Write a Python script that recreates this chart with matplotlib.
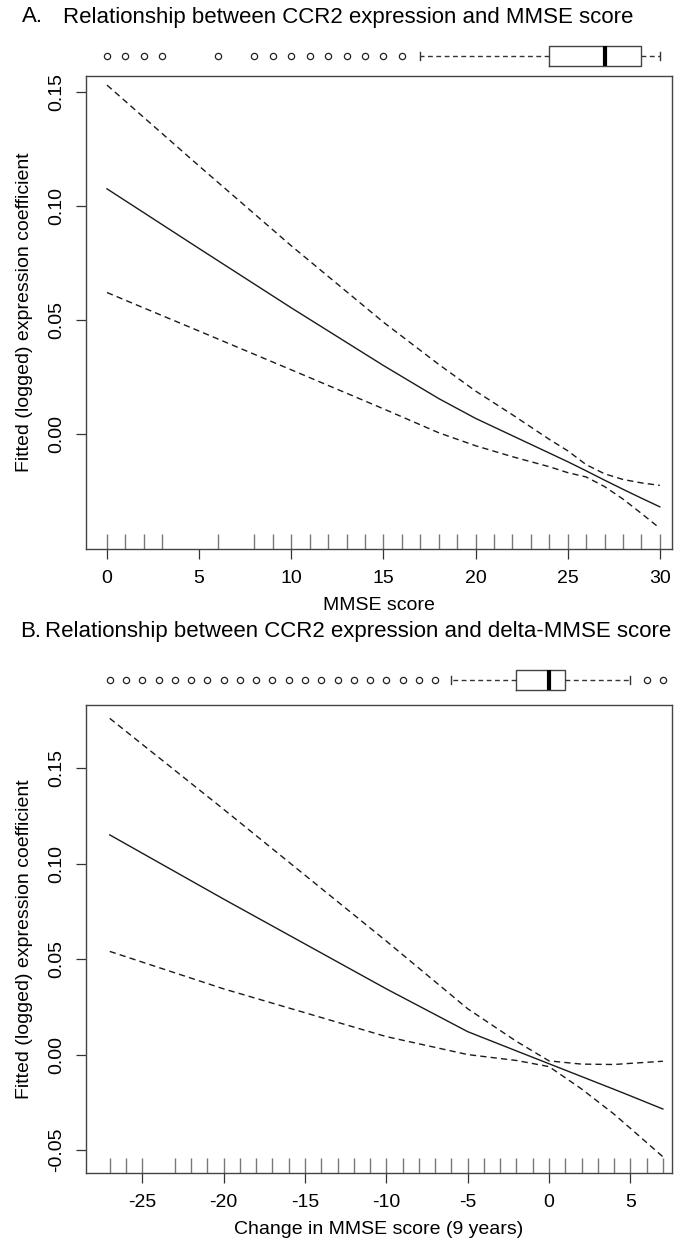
import numpy as np
import matplotlib.pyplot as plt

plt.rcParams['font.family'] = ['Liberation Sans', 'DejaVu Sans']
plt.rcParams['axes.unicode_minus'] = False

# panel A: MMSE score vs fitted CCR2 expression (fit and +/- 2 se bands)
mmse_x = [0, 5, 10, 15, 18, 20, 22, 24, 25, 26, 27, 28, 29, 30]
mmse_fit = [0.1075, 0.0813, 0.0553, 0.0300, 0.0155, 0.0068, -0.0008, -0.0084,
            -0.0122, -0.0162, -0.0203, -0.0243, -0.0282, -0.0320]
mmse_upper = [0.153, 0.1175, 0.0825, 0.0490, 0.0305, 0.0188, 0.0084, -0.0024,
              -0.0074, -0.0135, -0.0175, -0.0200, -0.0215, -0.0226]
mmse_lower = [0.062, 0.0451, 0.0281, 0.0110, 0.0005, -0.0052, -0.0100, -0.0144,
              -0.0170, -0.0189, -0.0231, -0.0286, -0.0349, -0.0414]
mmse_rug = [0, 1, 2, 3, 6] + list(range(8, 31))
mmse_box = dict(whislo=17, q1=24, med=27, q3=29, whishi=30,
                fliers=[0, 1, 2, 3, 6, 8, 9, 10, 11, 12, 13, 14, 15, 16])

# panel B: 9-year change in MMSE vs fitted CCR2 expression
delta_x = [-27, -25, -20, -15, -10, -5, -2, 0, 2, 4, 5, 7]
delta_fit = [0.115, 0.1054, 0.0814, 0.0579, 0.0344, 0.0120, 0.0019, -0.0048,
             -0.0115, -0.0182, -0.0216, -0.0285]
delta_upper = [0.176, 0.1624, 0.1284, 0.0939, 0.0594, 0.0240, 0.0069, -0.0033,
               -0.0050, -0.0052, -0.0046, -0.0035]
delta_lower = [0.054, 0.0484, 0.0344, 0.0219, 0.0094, 0.0000, -0.0031, -0.0063,
               -0.0180, -0.0312, -0.0386, -0.0535]
delta_rug = [-27, -26, -25] + list(range(-23, 8))
delta_box = dict(whislo=-6, q1=-2, med=0, q3=1, whishi=5,
                 fliers=list(range(-27, -6)) + [6, 7])

W, H = 683, 1251
fig = plt.figure(figsize=(W / 100, H / 100), dpi=100)


def px_axes(left, top, right, bottom):
    return fig.add_axes([left / W, 1 - bottom / H, (right - left) / W, (bottom - top) / H])


def panel(ax, x, fit, upper, lower, rug, xlim, ylim, xticks, yticks, xlabel):
    ink = '#1a1a1a'
    ax.plot(x, fit, color=ink, lw=1.0)
    for band in (upper, lower):
        ax.plot(x, band, color=ink, lw=1.0, dashes=(4.5, 3))
    ax.vlines(rug, 0, 0.032, transform=ax.get_xaxis_transform(), color='#777777', lw=1.0)
    ax.set_xlim(*xlim)
    ax.set_ylim(*ylim)
    ax.set_xticks(xticks)
    ax.set_yticks(yticks)
    ax.set_yticklabels(['%.2f' % v for v in yticks], rotation=90, va='center')
    ax.tick_params(direction='out', length=7, width=0.9, labelsize=14, color='#333333')
    ax.tick_params(axis='x', pad=8)
    ax.tick_params(axis='y', pad=8)
    for s in ax.spines.values():
        s.set_color('#444444')
        s.set_linewidth(1.0)
    ax.set_xlabel(xlabel, fontsize=14, labelpad=7)
    ax.set_ylabel('Fitted (logged) expression coefficient', fontsize=14, labelpad=11)


def top_box(ax, stats, xlim):
    ax.bxp([stats], orientation='horizontal', widths=0.85, capwidths=0.35,
           boxprops=dict(color='#444444', lw=1.0),
           whiskerprops=dict(color='#333333', lw=1.0, dashes=(3.5, 2.5)),
           capprops=dict(color='#333333', lw=1.0),
           medianprops=dict(color='black', lw=3),
           flierprops=dict(marker='o', markersize=4.5, markerfacecolor='none',
                           markeredgecolor='#222222', markeredgewidth=0.9))
    ax.set_xlim(*xlim)
    ax.set_ylim(0.5, 1.5)
    ax.axis('off')


# panel A
ax_a = px_axes(86, 76, 672, 549)
panel(ax_a, mmse_x, mmse_fit, mmse_upper, mmse_lower, mmse_rug,
      (-1.14, 30.66), (-0.0505, 0.157), [0, 5, 10, 15, 20, 25, 30],
      [0.00, 0.05, 0.10, 0.15], 'MMSE score')
top_box(px_axes(86, 44, 672, 68), mmse_box, (-1.14, 30.66))
fig.text(22 / W, 1 - 17 / H, 'A.', fontsize=16, va='center')
fig.text(63 / W, 1 - 17 / H, 'Relationship between CCR2 expression and MMSE score',
         fontsize=16, va='center')

# panel B
ax_b = px_axes(86, 705, 672, 1173)
panel(ax_b, delta_x, delta_fit, delta_upper, delta_lower, delta_rug,
      (-28.46, 7.56), (-0.062, 0.183), [-25, -20, -15, -10, -5, 0, 5],
      [-0.05, 0.00, 0.05, 0.10, 0.15], 'Change in MMSE score (9 years)')
top_box(px_axes(86, 668, 672, 692), delta_box, (-28.46, 7.56))
fig.text(20 / W, 1 - 631 / H, 'B.', fontsize=16, va='center')
fig.text(45 / W, 1 - 631 / H, 'Relationship between CCR2 expression and delta-MMSE score',
         fontsize=16, va='center')

fig.savefig('out.png', dpi=100)
